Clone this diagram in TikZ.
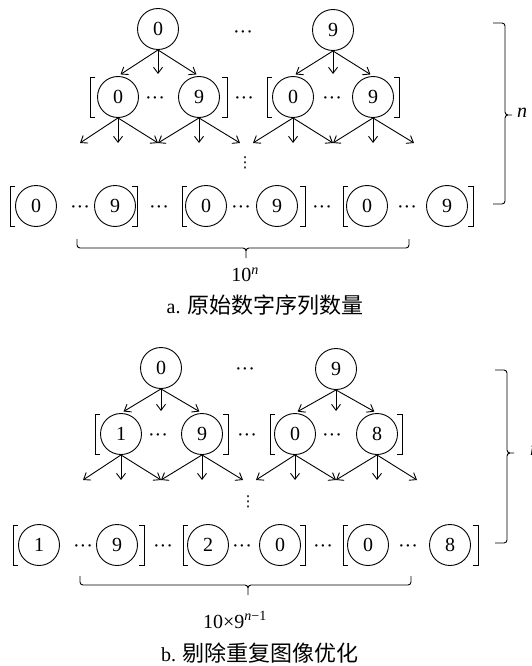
\documentclass[tikz,border=0pt]{standalone}
\usepackage{fontspec}
\setmainfont{Liberation Serif}
\newfontfamily\cjk{Noto Sans CJK SC}
\newfontfamily\symfont{DejaVu Sans}
\usetikzlibrary{positioning,arrows.meta}
\newcommand{\digitfont}{\fontsize{20}{24}\selectfont}
\tikzset{
  digit/.style={circle, draw, line width=0.9pt, minimum size=41pt, inner sep=0pt, font=\digitfont},
  dots/.style={inner sep=0pt, yshift=-6pt, font=\digitfont},
  vdots/.style={inner sep=0pt, font=\symfont\fontsize{15}{15}\selectfont},
  branch/.style={-{Straight Barb[length=6pt,width=9pt]}, line width=0.9pt},
  brak/.style={line width=0.9pt},
  curly/.style={line width=0.9pt, rounded corners=3pt},
  lbr/.pic={\draw[brak] (5,-20) -- (0,-20) -- (0,20) -- (5,20);},
  rbr/.pic={\draw[brak] (-5,-20) -- (0,-20) -- (0,20) -- (-5,20);}
}

\begin{document}
\begin{tikzpicture}[x=1pt, y=-1pt]
  \useasboundingbox (0,0) rectangle (531,666);
  \clip (0,0) rectangle (531,666);

  % a. all digit sequences
  \node[digit] (at0) at (158,29) {0};
  \node[dots]  (atd) at (243,29) {···};
  \node[digit] (at9) at (333,30) {9};

  \node[digit] (am0)  at (118,97) {0};
  \node[dots]  (amd1) at (155,95) {···};
  \node[digit] (am9)  at (199,97) {9};
  \node[dots]  (amd2) at (244,95) {···};
  \node[digit] (an0)  at (293,97) {0};
  \node[dots]  (amd3) at (332,95) {···};
  \node[digit] (an9)  at (373,97) {9};
  \pic at (90,97) {lbr};  \pic at (227,97) {rbr};
  \pic at (267,97) {lbr}; \pic at (399,97) {rbr};

  \coordinate (ama) at (158,74);
  \coordinate (ana) at (333,74);
  \draw[branch, shorten >=3pt] (at0.south) -- (am0.north);
  \draw[branch] (at0.south) -- (ama);
  \draw[branch, shorten >=3pt] (at0.south) -- (am9.north);
  \draw[branch, shorten >=3pt] (at9.south) -- (an0.north);
  \draw[branch] (at9.south) -- (ana);
  \draw[branch, shorten >=3pt] (at9.south) -- (an9.north);

  \foreach \x [count=\i] in {80,118,158,199,240,253,293,333,373,414}
    \coordinate (ae\i) at (\x,143);
  \foreach \s/\e in {am0/1,am0/2,am0/3,am9/3,am9/4,am9/5,an0/6,an0/7,an0/8,an9/8,an9/9,an9/10}
    \draw[branch] (\s.south) -- (ae\e);

  \node[vdots] (avd) at (245,163) {⋮};

  \node[digit] (ab0)  at (36,206)  {0};
  \node[dots]  (abd1) at (80,204)  {···};
  \node[digit] (ab9)  at (115,206) {9};
  \node[dots]  (abd2) at (159,204) {···};
  \node[digit] (ac0)  at (206,206) {0};
  \node[dots]  (abd3) at (241,204) {···};
  \node[digit] (ac9)  at (277,206) {9};
  \node[dots]  (abd4) at (322,204) {···};
  \node[digit] (ad0)  at (367,206) {0};
  \node[dots]  (abd5) at (407,204) {···};
  \node[digit] (ad9)  at (447,206) {9};
  \pic at (10,206) {lbr};  \pic at (137,206) {rbr};
  \pic at (182,206) {lbr}; \pic at (305,206) {rbr};
  \pic at (343,206) {lbr}; \pic at (473,206) {rbr};

  % braces
  \coordinate (atip) at (246,248);
  \draw[curly] (77,239) |- (atip) -- ++(0,10)  (409,239) |- (atip) -- ++(0,10);
  \node[font=\digitfont] (acount) at (245,275) {10\textsuperscript{\textit{n}}};
  \node[font=\digitfont] (acap) at (265,305) {a. {\cjk\fontsize{22}{26}\selectfont 原始数字序列数量}};
  \coordinate (alevtip) at (505,115);
  \draw[curly] (493,23) -| (alevtip) -- ++(7,0)  (493,204) -| (alevtip) -- ++(7,0);
  \node[font=\digitfont] (alev) at (522,113) {\textit{n}};

  % b. repeated digits removed
  \node[digit] (bt0) at (161,368) {0};
  \node[dots]  (btd) at (245,366) {···};
  \node[digit] (bt9) at (336,369) {9};

  \node[digit] (bm1)  at (121,434) {1};
  \node[dots]  (bmd1) at (158,432) {···};
  \node[digit] (bm9)  at (202,434) {9};
  \node[dots]  (bmd2) at (247,432) {···};
  \node[digit] (bn0)  at (295,434) {0};
  \node[dots]  (bmd3) at (332,432) {···};
  \node[digit] (bn8)  at (377,434) {8};
  \pic at (95,434) {lbr};  \pic at (228,434) {rbr};
  \pic at (270,434) {lbr}; \pic at (402,434) {rbr};

  \coordinate (bma) at (161,411);
  \coordinate (bna) at (336,411);
  \draw[branch, shorten >=3pt] (bt0.south) -- (bm1.north);
  \draw[branch] (bt0.south) -- (bma);
  \draw[branch, shorten >=3pt] (bt0.south) -- (bm9.north);
  \draw[branch, shorten >=3pt] (bt9.south) -- (bn0.north);
  \draw[branch] (bt9.south) -- (bna);
  \draw[branch, shorten >=3pt] (bt9.south) -- (bn8.north);

  \foreach \x [count=\i] in {83,121,161,202,243,256,295,336,377,417}
    \coordinate (be\i) at (\x,480);
  \foreach \s/\e in {bm1/1,bm1/2,bm1/3,bm9/3,bm9/4,bm9/5,bn0/6,bn0/7,bn0/8,bn8/8,bn8/9,bn8/10}
    \draw[branch] (\s.south) -- (be\e);

  \node[vdots] (bvd) at (248,502) {⋮};

  \node[digit] (bb1)  at (39,545)  {1};
  \node[dots]  (bbd1) at (83,543)  {···};
  \node[digit] (bb9)  at (117,545) {9};
  \node[dots]  (bbd2) at (163,543) {···};
  \node[digit] (bc2)  at (208,545) {2};
  \node[dots]  (bbd3) at (242,543) {···};
  \node[digit] (bc0)  at (280,545) {0};
  \node[dots]  (bbd4) at (323,543) {···};
  \node[digit] (bd0)  at (368,545) {0};
  \node[dots]  (bbd5) at (408,543) {···};
  \node[digit] (bd8)  at (450,545) {8};
  \pic at (13,545) {lbr};  \pic at (144,545) {rbr};
  \pic at (183,545) {lbr}; \pic at (305,545) {rbr};
  \pic at (343,545) {lbr}; \pic at (478,545) {rbr};

  % braces
  \coordinate (btip) at (248,585);
  \draw[curly] (80,576) |- (btip) -- ++(0,10)  (411,576) |- (btip) -- ++(0,10);
  \node[font=\digitfont] (bcount) at (235,620) {10×9\textsuperscript{\textit{n}−1}};
  \node[font=\digitfont] (bcap) at (260,653) {b. {\cjk\fontsize{22}{26}\selectfont 剔除重复图像优化}};
  \coordinate (blevtip) at (507,453);
  \draw[curly] (495,370) -| (blevtip) -- ++(7,0)  (495,543) -| (blevtip) -- ++(7,0);
  \node[font=\digitfont] (blev) at (535,451) {\textit{n}};
\end{tikzpicture}
\end{document}
